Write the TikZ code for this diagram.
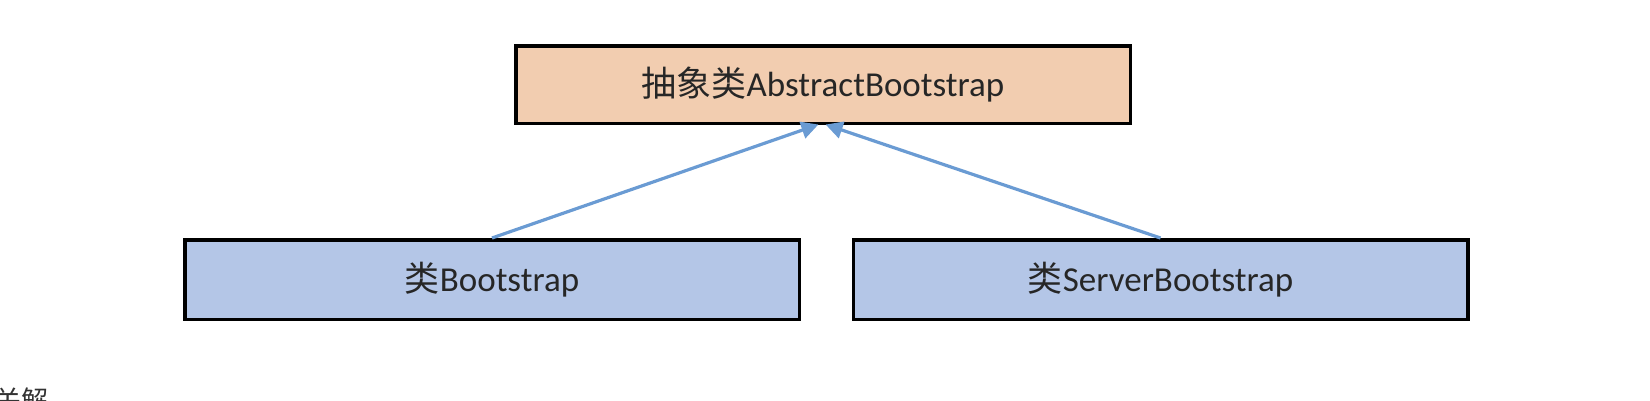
\documentclass[tikz,border=0pt]{standalone}
\usepackage{fontspec}
\setmainfont{Carlito}
\newfontfamily\cjk{Noto Sans CJK SC}
\usetikzlibrary{arrows.meta}
\definecolor{peach}{HTML}{F2CDB0}
\definecolor{paleblue}{HTML}{B4C6E7}
\definecolor{arrowblue}{HTML}{6A9BD3}
\definecolor{pagetext}{HTML}{333333}
\tikzset{
  classbox/.style={draw=black, line width=3.5pt, minimum width=614.5pt, minimum height=77.5pt,
    inner sep=0pt, font=\fontsize{35}{42}\selectfont, text=black!85},
  inherit/.style={draw=arrowblue, line width=3.2pt, -{Triangle[length=17pt,width=17pt]}, shorten >=-1.5pt}
}
\begin{document}
\begin{tikzpicture}[x=1pt,y=-1pt]
\useasboundingbox (0,0) rectangle (1650,400);
\node[classbox, fill=peach] (abs) at (823,84.5) {{\cjk 抽象类}AbstractBootstrap};
\node[classbox, fill=paleblue, minimum height=79.5pt] (bs) at (492,279.5) {{\cjk 类}Bootstrap};
\node[classbox, fill=paleblue, minimum height=79.5pt] (sbs) at (1160.5,279.5) {{\cjk 类}ServerBootstrap};
\draw[inherit] (bs.north) -- ([xshift=-6pt]abs.south);
\draw[inherit] (sbs.north) -- ([xshift=4pt]abs.south);
\node[anchor=base west, inner sep=0pt, text=pagetext, font=\cjk\fontsize{27}{27}\selectfont] (tail) at (-6,410) {关解};
\end{tikzpicture}
\end{document}
